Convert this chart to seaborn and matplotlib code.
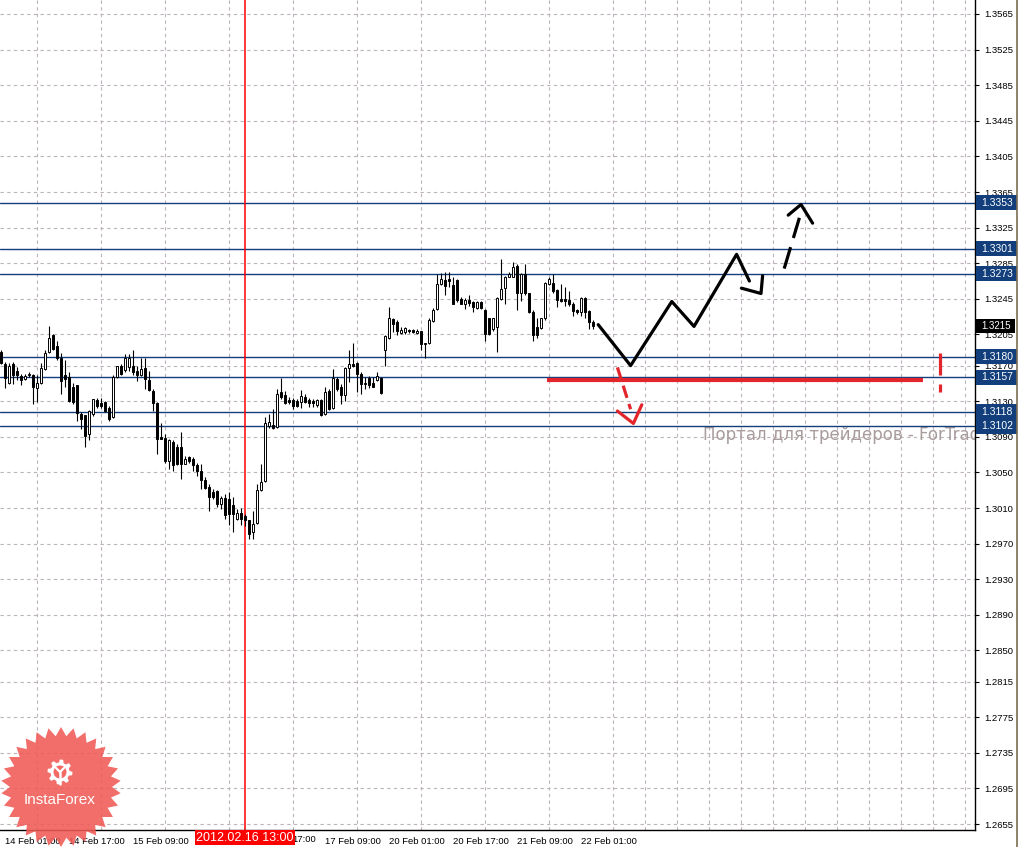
import numpy as np
import pandas as pd
import matplotlib
matplotlib.use("Agg")
import matplotlib.pyplot as plt
from matplotlib.patches import Rectangle, Polygon, Circle
from matplotlib.lines import Line2D
import matplotlib.transforms as mtransforms
import seaborn as sns

sns.set_style("white")
plt.rcParams['font.family'] = ['Liberation Sans', 'DejaVu Sans']

# ---------------- data (EURUSD H1, 14 Feb 00:00 .. 22 Feb 03:00 2012) ----------------
bar_index = list(range(-1, 148))
opens = [1.3185, 1.3172, 1.3150, 1.3172, 1.3164, 1.3158, 1.3155, 1.3159, 1.3159, 1.3145,
         1.3150, 1.3166, 1.3185, 1.3204, 1.3192, 1.3179, 1.3159, 1.3157, 1.3146, 1.3148,
         1.3116, 1.3114, 1.3093, 1.3116, 1.3131, 1.3128, 1.3129, 1.3122, 1.3112, 1.3157,
         1.3169, 1.3165, 1.3168, 1.3170, 1.3164, 1.3159, 1.3167, 1.3154, 1.3142, 1.3128,
         1.3090, 1.3089, 1.3063, 1.3084, 1.3078, 1.3078, 1.3060, 1.3067, 1.3065, 1.3058,
         1.3052, 1.3041, 1.3034, 1.3028, 1.3029, 1.3015, 1.3021, 1.3020, 1.3013, 1.2998,
         1.3004, 1.3001, 1.2996, 1.2983, 1.2993, 1.3030, 1.3040, 1.3102, 1.3103, 1.3101,
         1.3140, 1.3137, 1.3131, 1.3131, 1.3130, 1.3129, 1.3135, 1.3131, 1.3130, 1.3126,
         1.3131, 1.3116, 1.3141, 1.3122, 1.3155, 1.3146, 1.3137, 1.3167, 1.3172, 1.3173,
         1.3161, 1.3149, 1.3156, 1.3151, 1.3154, 1.3156, 1.3188, 1.3201, 1.3222, 1.3219,
         1.3207, 1.3208, 1.3210, 1.3210, 1.3207, 1.3209, 1.3194, 1.3195, 1.3220, 1.3234,
         1.3262, 1.3266, 1.3267, 1.3260, 1.3266, 1.3245, 1.3239, 1.3244, 1.3241, 1.3235,
         1.3242, 1.3233, 1.3224, 1.3211, 1.3213, 1.3245, 1.3257, 1.3269, 1.3270, 1.3282,
         1.3251, 1.3273, 1.3251, 1.3230, 1.3213, 1.3212, 1.3223, 1.3262, 1.3263, 1.3255,
         1.3245, 1.3245, 1.3244, 1.3239, 1.3232, 1.3230, 1.3246, 1.3231, 1.3219]
highs = [1.3188, 1.3174, 1.3173, 1.3174, 1.3168, 1.3161, 1.3161, 1.3163, 1.3161, 1.3159,
         1.3173, 1.3188, 1.3214, 1.3206, 1.3198, 1.3184, 1.3176, 1.3163, 1.3151, 1.3148,
         1.3118, 1.3114, 1.3120, 1.3133, 1.3134, 1.3134, 1.3130, 1.3125, 1.3159, 1.3170,
         1.3172, 1.3183, 1.3183, 1.3188, 1.3170, 1.3179, 1.3178, 1.3164, 1.3144, 1.3129,
         1.3106, 1.3093, 1.3088, 1.3086, 1.3082, 1.3095, 1.3069, 1.3069, 1.3067, 1.3061,
         1.3059, 1.3045, 1.3037, 1.3031, 1.3030, 1.3024, 1.3026, 1.3028, 1.3022, 1.3009,
         1.3010, 1.3003, 1.2997, 1.3007, 1.3037, 1.3059, 1.3112, 1.3116, 1.3121, 1.3144,
         1.3156, 1.3142, 1.3135, 1.3134, 1.3133, 1.3143, 1.3138, 1.3134, 1.3133, 1.3133,
         1.3133, 1.3146, 1.3144, 1.3166, 1.3157, 1.3149, 1.3168, 1.3187, 1.3195, 1.3174,
         1.3163, 1.3157, 1.3158, 1.3157, 1.3163, 1.3157, 1.3204, 1.3236, 1.3224, 1.3221,
         1.3213, 1.3213, 1.3211, 1.3211, 1.3211, 1.3209, 1.3195, 1.3223, 1.3235, 1.3273,
         1.3274, 1.3275, 1.3275, 1.3270, 1.3267, 1.3247, 1.3246, 1.3249, 1.3243, 1.3243,
         1.3243, 1.3234, 1.3224, 1.3224, 1.3247, 1.3290, 1.3271, 1.3275, 1.3286, 1.3284,
         1.3274, 1.3284, 1.3252, 1.3232, 1.3224, 1.3224, 1.3264, 1.3269, 1.3273, 1.3256,
         1.3262, 1.3258, 1.3254, 1.3241, 1.3234, 1.3247, 1.3247, 1.3232, 1.3221]
lows = [1.3172, 1.3145, 1.3149, 1.3149, 1.3154, 1.3148, 1.3154, 1.3157, 1.3127, 1.3129,
        1.3149, 1.3165, 1.3184, 1.3187, 1.3176, 1.3138, 1.3146, 1.3129, 1.3127, 1.3108,
        1.3099, 1.3078, 1.3086, 1.3113, 1.3122, 1.3122, 1.3118, 1.3108, 1.3111, 1.3156,
        1.3159, 1.3163, 1.3164, 1.3159, 1.3153, 1.3158, 1.3144, 1.3142, 1.3119, 1.3071,
        1.3088, 1.3061, 1.3054, 1.3052, 1.3058, 1.3043, 1.3060, 1.3061, 1.3052, 1.3046,
        1.3031, 1.3031, 1.3007, 1.3020, 1.3011, 1.3009, 1.2998, 1.2991, 1.2983, 1.2996,
        1.2991, 1.2990, 1.2975, 1.2975, 1.2992, 1.3029, 1.3039, 1.3100, 1.3099, 1.3100,
        1.3133, 1.3127, 1.3127, 1.3121, 1.3123, 1.3122, 1.3128, 1.3123, 1.3124, 1.3124,
        1.3113, 1.3115, 1.3120, 1.3121, 1.3142, 1.3127, 1.3130, 1.3152, 1.3168, 1.3140,
        1.3138, 1.3144, 1.3145, 1.3146, 1.3153, 1.3138, 1.3170, 1.3200, 1.3208, 1.3204,
        1.3206, 1.3206, 1.3207, 1.3207, 1.3206, 1.3188, 1.3179, 1.3194, 1.3219, 1.3232,
        1.3260, 1.3249, 1.3258, 1.3239, 1.3241, 1.3239, 1.3234, 1.3237, 1.3230, 1.3234,
        1.3234, 1.3198, 1.3204, 1.3209, 1.3185, 1.3244, 1.3239, 1.3269, 1.3269, 1.3232,
        1.3243, 1.3249, 1.3229, 1.3198, 1.3201, 1.3211, 1.3221, 1.3260, 1.3252, 1.3236,
        1.3241, 1.3237, 1.3237, 1.3226, 1.3228, 1.3226, 1.3224, 1.3211, 1.3211]
closes = [1.3173, 1.3156, 1.3169, 1.3159, 1.3159, 1.3154, 1.3158, 1.3160, 1.3146, 1.3150,
          1.3167, 1.3184, 1.3201, 1.3189, 1.3179, 1.3153, 1.3155, 1.3130, 1.3129, 1.3117,
          1.3110, 1.3091, 1.3119, 1.3132, 1.3125, 1.3125, 1.3119, 1.3110, 1.3157, 1.3169,
          1.3161, 1.3178, 1.3178, 1.3163, 1.3159, 1.3166, 1.3155, 1.3143, 1.3128, 1.3088,
          1.3088, 1.3063, 1.3086, 1.3058, 1.3060, 1.3060, 1.3065, 1.3063, 1.3058, 1.3052,
          1.3041, 1.3033, 1.3022, 1.3022, 1.3015, 1.3021, 1.3002, 1.3003, 1.3003, 1.3004,
          1.2998, 1.2996, 1.2981, 1.2992, 1.3030, 1.3039, 1.3106, 1.3107, 1.3100, 1.3138,
          1.3135, 1.3128, 1.3129, 1.3125, 1.3125, 1.3136, 1.3129, 1.3128, 1.3128, 1.3131,
          1.3114, 1.3140, 1.3121, 1.3156, 1.3144, 1.3137, 1.3167, 1.3172, 1.3170, 1.3161,
          1.3149, 1.3151, 1.3148, 1.3146, 1.3158, 1.3139, 1.3203, 1.3223, 1.3217, 1.3209,
          1.3210, 1.3212, 1.3209, 1.3208, 1.3209, 1.3194, 1.3195, 1.3221, 1.3232, 1.3262,
          1.3267, 1.3259, 1.3265, 1.3239, 1.3244, 1.3239, 1.3244, 1.3240, 1.3236, 1.3241,
          1.3235, 1.3205, 1.3206, 1.3224, 1.3246, 1.3256, 1.3269, 1.3273, 1.3281, 1.3252,
          1.3273, 1.3251, 1.3230, 1.3204, 1.3204, 1.3223, 1.3263, 1.3267, 1.3254, 1.3244,
          1.3243, 1.3243, 1.3239, 1.3231, 1.3230, 1.3246, 1.3230, 1.3219, 1.3215]

price_ticks = [1.3565, 1.3525, 1.3485, 1.3445, 1.3405, 1.3365, 1.3325, 1.3285, 1.3245,
               1.3205, 1.3170, 1.3130, 1.3090, 1.3050, 1.3010, 1.2970, 1.2930, 1.2890,
               1.2850, 1.2815, 1.2775, 1.2735, 1.2695, 1.2655]
# labels at bars 48 and 64 are covered by the crosshair date box; only "17:00" peeks out
time_tick_bars = [0, 16, 32, 48, 64, 80, 96, 112, 128, 144]
time_tick_labels = ["14 Feb 01:00", "14 Feb 17:00", "15 Feb 09:00", "", "",
                    "17 Feb 09:00", "20 Feb 01:00", "20 Feb 17:00", "21 Feb 09:00",
                    "22 Feb 01:00"]
partial_label = "17:00"
partial_label_bar = 71.8
levels = [1.3353, 1.3301, 1.3273, 1.3180, 1.3157, 1.3118, 1.3102]
current_price = 1.3215
crosshair_bar = 60
crosshair_label = "2012.02.16 13:00"

# hand-drawn forecast (bar index, price)
zig_bars = [148.3, 156.4, 166.7, 172.25, 182.9, 186.1]
zig_prices = [1.3216, 1.3170, 1.3242, 1.3214, 1.3295, 1.3265]
hook_bars = [184.1, 189.0, 189.4]
hook_prices = [1.3257, 1.3251, 1.3271]
up_bars = [194.8, 198.6]
up_prices = [1.3279, 1.3336]
uphead_bars = [195.8, 199.0, 201.9]
uphead_prices = [1.3339, 1.3351, 1.3330]
red_line_bars = [135.6, 229.6]
red_line_price = 1.3154
down_bars = [153.1, 156.4]
down_prices = [1.3168, 1.3121]
downhead_bars = [153.1, 157.1, 159.2]
downhead_prices = [1.3119, 1.3105, 1.3126]
mark_bar = 233.8
mark_prices_top = [1.3184, 1.3159]
mark_prices_bot = [1.3149, 1.3140]
watermark = "Портал для трейдеров - ForTrader.ru"
watermark_pos = (174.5, 1.30925)

# ---------------- figure ----------------
W, H = 1019, 847
fig = plt.figure(figsize=(W / 100, H / 100), dpi=100, facecolor='white')
ax = fig.add_axes([0, 17 / H, 975 / W, 830 / H])
ax.set_facecolor('white')
ax.set_xlim(-1.25, 242.5)
ax.set_ylim(1.26483, 1.35807)

for s in ['top', 'left']:
    ax.spines[s].set_visible(False)
for s in ['right', 'bottom']:
    ax.spines[s].set_color('black')
    ax.spines[s].set_linewidth(1.0)

grid_col = '#bdb3bd'
ax.set_yticks(price_ticks)
ax.set_yticklabels([f"{v:.4f}" for v in price_ticks])
ax.yaxis.tick_right()
ax.tick_params(axis='y', which='major', labelsize=6.8, length=3, width=0.8, pad=4, colors='black')
ax.set_xticks(time_tick_bars)
ax.set_xticklabels(time_tick_labels)
ax.set_xticks(list(range(0, 243, 8)), minor=True)
ax.tick_params(axis='x', which='major', labelsize=6.8, length=3, width=0.8, pad=2, colors='black')
ax.tick_params(axis='x', which='minor', length=0)
for lbl in ax.get_xticklabels():
    lbl.set_ha('left')
ax.grid(axis='y', which='major', color=grid_col, linestyle=(0, (3, 3)), linewidth=0.8)
ax.grid(axis='x', which='minor', color=grid_col, linestyle=(0, (3, 3)), linewidth=0.8)
ax.grid(axis='x', which='major', visible=False)
ax.set_axisbelow(True)
xblend = mtransforms.blended_transform_factory(ax.transData, ax.transAxes)
ax.annotate(partial_label, xy=(partial_label_bar, 0), xycoords=xblend,
            xytext=(0, -3.5), textcoords='offset points', ha='left', va='top',
            fontsize=6.8, color='black', annotation_clip=False)

# ---------------- candles ----------------
df = pd.DataFrame({'bar': bar_index, 'open': opens, 'high': highs, 'low': lows, 'close': closes})
ax.vlines(df['bar'], df['low'], df['high'], color='black', linewidth=0.8, zorder=3)
body_bottom = np.minimum(df['open'], df['close'])
body_h = np.maximum(np.abs(df['close'] - df['open']), 0.00004)
face = np.where(df['close'] >= df['open'], 'white', 'black')
ax.bar(df['bar'], body_h, bottom=body_bottom, width=0.72, color=face,
       edgecolor='black', linewidth=0.7, zorder=4)

# ---------------- horizontal levels ----------------
navy = '#123f7c'
px = 0.091 / 810  # price per pixel
blend = mtransforms.blended_transform_factory(ax.transAxes, ax.transData)
for lv in levels:
    ax.axhline(lv, color=navy, linewidth=1.0, zorder=2)
    ax.add_patch(Rectangle((1.0015, lv - 7.5 * px), 41 / 975, 15 * px, transform=blend,
                           facecolor=navy, edgecolor='none', clip_on=False, zorder=6))
    ax.text(1.0015 + 20.5 / 975, lv, f"{lv:.4f}", transform=blend, ha='center', va='center',
            fontsize=7.5, color='white', zorder=7, clip_on=False)
ax.add_patch(Rectangle((1.0015, current_price - 7 * px), 39 / 975, 14 * px, transform=blend,
                       facecolor='black', edgecolor='none', clip_on=False, zorder=6))
ax.text(1.0015 + 19.5 / 975, current_price, f"{current_price:.4f}", transform=blend,
        ha='center', va='center', fontsize=7, color='white', zorder=7, clip_on=False)

# crosshair
ax.axvline(crosshair_bar, color='red', linewidth=1.1, zorder=2)
ax.annotate(crosshair_label, xy=(crosshair_bar, 0), xycoords=('data', 'axes fraction'),
            xytext=(0, -1.2), textcoords='offset points', ha='center', va='top',
            fontsize=9, color='white', annotation_clip=False, zorder=20,
            bbox=dict(boxstyle='square,pad=0.12', fc='#ff0000', ec='none'))

# ---------------- forecast drawing ----------------
sns.lineplot(x=zig_bars, y=zig_prices, sort=False, estimator=None, color='black',
             linewidth=2.3, ax=ax, zorder=8)
sns.lineplot(x=hook_bars, y=hook_prices, sort=False, estimator=None, color='black',
             linewidth=2.3, ax=ax, zorder=8)
ax.plot(up_bars, up_prices, color='black', linewidth=2.3, linestyle=(0, (7, 3)), zorder=8)
ax.plot(uphead_bars, uphead_prices, color='black', linewidth=2.3, zorder=8)
ax.plot(red_line_bars, [red_line_price] * 2, color='#e3262b', linewidth=3.0, zorder=8,
        solid_capstyle='butt')
ax.plot(down_bars, down_prices, color='#e3262b', linewidth=2.3, linestyle=(0, (4, 2)), zorder=8)
ax.plot(downhead_bars, downhead_prices, color='#e3262b', linewidth=2.3, zorder=8)
ax.plot([mark_bar] * 2, mark_prices_top, color='#e3262b', linewidth=2.3, zorder=8,
        solid_capstyle='butt')
ax.plot([mark_bar] * 2, mark_prices_bot, color='#e3262b', linewidth=2.3, zorder=8,
        solid_capstyle='butt')

ax.text(watermark_pos[0], watermark_pos[1], watermark, fontsize=12, color='#a89c9c',
        ha='left', va='center', family=['DejaVu Sans'], clip_on=True, zorder=1)

# ---------------- overlay: logo and frame ----------------
ov = fig.add_axes([0, 0, 1, 1], zorder=30)
ov.set_xlim(0, W)
ov.set_ylim(H, 0)
ov.axis('off')
ov.patch.set_alpha(0)
cx, cy = 61, 787
n_sp = 30
ang = np.linspace(0, 2 * np.pi, 2 * n_sp, endpoint=False) - np.pi / 2
rad = np.where(np.arange(2 * n_sp) % 2 == 0, 60, 51)
ov.add_patch(Polygon(np.c_[cx + rad * np.cos(ang), cy + rad * np.sin(ang)],
                     closed=True, facecolor='#f05a55', edgecolor='none', alpha=0.88))
# gear icon
gx, gy = 60, 772
ga = np.linspace(0, 2 * np.pi, 48, endpoint=False)
gr = np.where((np.arange(48) // 3) % 2 == 0, 12.5, 9.5)
ov.add_patch(Polygon(np.c_[gx + gr * np.cos(ga), gy + gr * np.sin(ga)], closed=True,
                     facecolor='white', edgecolor='none'))
ov.add_patch(Circle((gx, gy), 6.5, facecolor='#f36a65', edgecolor='none'))
ov.plot([gx - 4, gx, gx + 4], [gy - 4, gy, gy - 4], color='white', linewidth=1.6)
ov.plot([gx, gx], [gy, gy + 12], color='white', linewidth=1.8)
ov.text(cx - 1, 800, "InstaForex", color='white', fontsize=11, ha='center', va='center')
ov.add_line(Line2D([1017.5, 1017.5], [0, H], color='#7d6d52', linewidth=1.2))

fig.savefig("out.png", dpi=100, facecolor='white')
